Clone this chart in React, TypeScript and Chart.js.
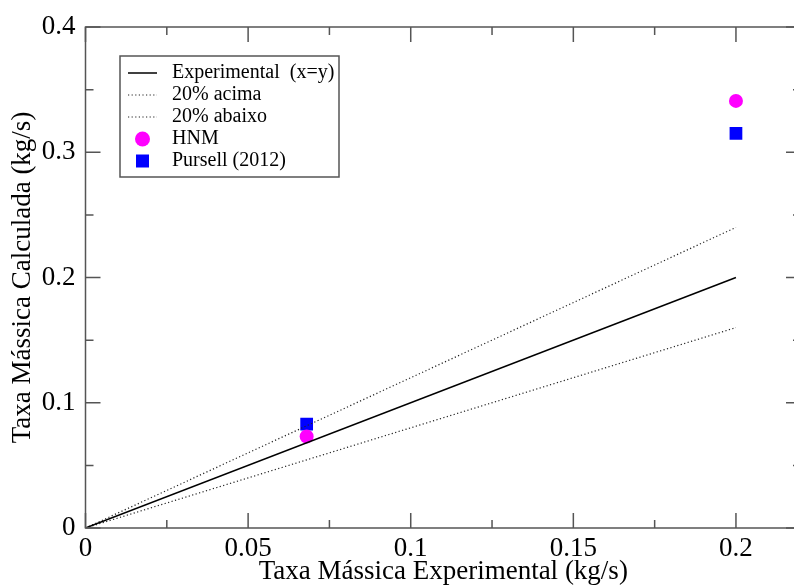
import React, { useEffect, useRef } from "react";
import { Chart, registerables } from "chart.js";

Chart.register(...registerables);

// ---- data ----
const xTickValues = [0, 0.05, 0.1, 0.15, 0.2];
const xTickLabels = ["0", "0.05", "0.1", "0.15", "0.2"];
const xMinorTicks = [0.025, 0.075, 0.125, 0.175];
const yTickValues = [0, 0.1, 0.2, 0.3, 0.4];
const yTickLabels = ["0", "0.1", "0.2", "0.3", "0.4"];
const yMinorTicks = [0.05, 0.15, 0.25, 0.35];

const refX = [0, 0.2];
const experimentalY = [0, 0.2];
const acimaY = [0, 0.24];
const abaixoY = [0, 0.16];

const measuredX = [0.068, 0.2];
const hnmY = [0.073, 0.341];
const pursellY = [0.083, 0.315];

const seriesLabels = [
  "Experimental  (x=y)",
  "20% acima",
  "20% abaixo",
  "HNM",
  "Pursell (2012)",
];

const xTitle = "Taxa Mássica Experimental (kg/s)";
const yTitle = "Taxa Mássica Calculada (kg/s)";

// ---- styles ----
const FONT = "'Liberation Serif', 'Times New Roman', serif";
const FRAME = "#555555";

const toPts = (xs: number[], ys: number[]) => xs.map((x, i) => ({ x, y: ys[i] }));

const framePlugin = {
  id: "frame",
  afterDatasetsDraw(chart: any) {
    const { ctx, chartArea: a, scales } = chart;
    const xs = scales.x;
    const ys = scales.y;
    ctx.save();
    ctx.strokeStyle = FRAME;
    ctx.lineWidth = 1.5;
    ctx.strokeRect(a.left, a.top, a.right - a.left, a.bottom - a.top);
    ctx.beginPath();
    const vt = (v: number, len: number) => {
      const px = xs.getPixelForValue(v);
      ctx.moveTo(px, a.bottom);
      ctx.lineTo(px, a.bottom - len);
      ctx.moveTo(px, a.top);
      ctx.lineTo(px, a.top + len);
    };
    const ht = (v: number, len: number) => {
      const py = ys.getPixelForValue(v);
      ctx.moveTo(a.left, py);
      ctx.lineTo(a.left + len, py);
      ctx.moveTo(a.right, py);
      ctx.lineTo(a.right - len, py);
    };
    xTickValues.forEach((v) => vt(v, 15));
    xMinorTicks.forEach((v) => vt(v, 8));
    yTickValues.forEach((v) => ht(v, 15));
    yMinorTicks.forEach((v) => ht(v, 8));
    ctx.stroke();
    ctx.restore();
  },
};

const legendPlugin = {
  id: "boxLegend",
  afterDraw(chart: any) {
    const { ctx } = chart;
    const box = { left: 120, top: 56, width: 219, height: 121 };
    const rowStart = 73;
    const rowStep = 22;
    ctx.save();
    ctx.strokeStyle = FRAME;
    ctx.lineWidth = 1.5;
    ctx.fillStyle = "#ffffff";
    ctx.fillRect(box.left, box.top, box.width, box.height);
    ctx.strokeRect(box.left, box.top, box.width, box.height);
    chart.data.datasets.forEach((ds: any, i: number) => {
      const y = rowStart + i * rowStep;
      if (ds.showLine) {
        ctx.save();
        ctx.strokeStyle = ds.borderColor;
        ctx.lineWidth = ds.borderWidth;
        ctx.setLineDash(ds.borderDash || []);
        ctx.beginPath();
        ctx.moveTo(128, y);
        ctx.lineTo(157, y);
        ctx.stroke();
        ctx.restore();
      } else {
        ctx.fillStyle = ds.backgroundColor;
        ctx.beginPath();
        if (ds.pointStyle === "rect") {
          ctx.rect(136, y - 6.5, 13, 13);
        } else {
          ctx.arc(142.5, y, 7.5, 0, Math.PI * 2);
        }
        ctx.fill();
      }
      ctx.fillStyle = "#000";
      ctx.font = `20px ${FONT}`;
      ctx.textBaseline = "middle";
      ctx.textAlign = "left";
      ctx.fillText(ds.label, 172, y);
    });
    ctx.restore();
  },
};

export default function App() {
  const ref = useRef<HTMLCanvasElement | null>(null);

  useEffect(() => {
    if (!ref.current) return;
    const chart = new Chart(ref.current, {
      type: "scatter",
      data: {
        datasets: [
          {
            label: seriesLabels[0],
            data: toPts(refX, experimentalY),
            showLine: true,
            borderColor: "#000000",
            borderWidth: 1.5,
            pointRadius: 0,
            backgroundColor: "#000000",
          },
          {
            label: seriesLabels[1],
            data: toPts(refX, acimaY),
            showLine: true,
            borderColor: "#222222",
            borderWidth: 1.2,
            borderDash: [1.2, 2.4],
            pointRadius: 0,
            backgroundColor: "#222222",
          },
          {
            label: seriesLabels[2],
            data: toPts(refX, abaixoY),
            showLine: true,
            borderColor: "#222222",
            borderWidth: 1.2,
            borderDash: [1.2, 2.4],
            pointRadius: 0,
            backgroundColor: "#222222",
          },
          {
            label: seriesLabels[3],
            data: toPts(measuredX, hnmY),
            showLine: false,
            pointStyle: "circle",
            pointRadius: 7,
            borderWidth: 0,
            backgroundColor: "#ff00ff",
            borderColor: "#ff00ff",
          },
          {
            label: seriesLabels[4],
            data: toPts(measuredX, pursellY),
            showLine: false,
            pointStyle: "rect",
            pointRadius: 9,
            borderWidth: 0,
            backgroundColor: "#0000ff",
            borderColor: "#0000ff",
          },
        ],
      } as any,
      options: {
        animation: false,
        responsive: false,
        layout: { padding: { left: 0, right: 11, top: 27, bottom: 0 } },
        plugins: { legend: { display: false }, tooltip: { enabled: false } },
        scales: {
          x: {
            type: "linear",
            min: 0,
            max: 0.22,
            grid: { display: false, drawTicks: false },
            border: { display: false },
            afterBuildTicks: (s: any) => {
              s.ticks = xTickValues.map((v) => ({ value: v }));
            },
            afterFit: (s: any) => {
              s.height = 60;
            },
            ticks: {
              autoSkip: false,
              maxRotation: 0,
              padding: 5,
              color: "#000",
              font: { family: FONT, size: 27 },
              callback: (_v: any, i: number) => xTickLabels[i],
            },
            title: {
              display: true,
              text: xTitle,
              color: "#000",
              font: { family: FONT, size: 27 },
              padding: { top: 0, bottom: 0 },
            },
          },
          y: {
            type: "linear",
            min: 0,
            max: 0.4,
            grid: { display: false, drawTicks: false },
            border: { display: false },
            afterBuildTicks: (s: any) => {
              s.ticks = yTickValues.map((v) => ({ value: v }));
            },
            afterFit: (s: any) => {
              s.width = 85.5;
            },
            ticks: {
              autoSkip: false,
              padding: 10,
              color: "#000",
              font: { family: FONT, size: 27 },
              callback: (_v: any, i: number) => yTickLabels[i],
            },
            title: {
              display: true,
              text: yTitle,
              color: "#000",
              font: { family: FONT, size: 27 },
              padding: { top: 7, bottom: 0 },
            },
          },
        },
      } as any,
      plugins: [framePlugin, legendPlugin],
    });
    return () => chart.destroy();
  }, []);

  return (
    <div
      style={{
        position: "fixed",
        left: 0,
        top: 0,
        width: 794,
        height: 588,
        overflow: "hidden",
        background: "#fff",
      }}
    >
      <canvas ref={ref} width={812} height={588} style={{ display: "block", width: 812, height: 588 }} />
    </div>
  );
}
